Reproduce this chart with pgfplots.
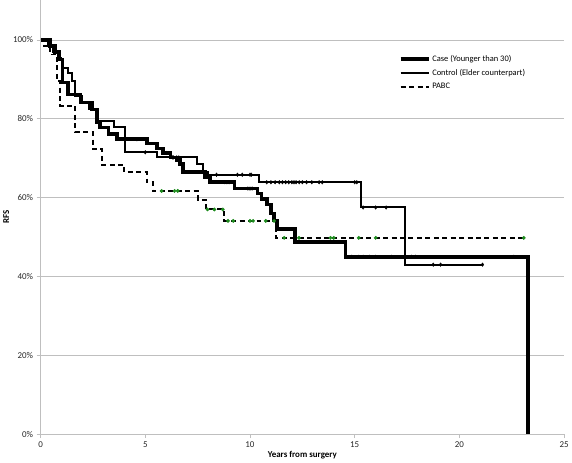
\documentclass[border=0pt]{standalone}
\usepackage{pgfplots}
\pgfplotsset{compat=1.18}
\usepackage{fontspec}
\setmainfont{Carlito}
\definecolor{gridgray}{HTML}{BFBFBF}
\definecolor{censgreen}{HTML}{1E8C1E}
\begin{document}
\begin{tikzpicture}
\begin{axis}[
  scale only axis, width=527pt, height=436.5pt,
  xmin=0, xmax=25, ymin=0, ymax=110,
  axis lines=left,
  axis line style={gridgray, line width=1pt, -},
  xtick={0,5,10,15,20,25},
  xticklabels={0,5,10,15,20,25},
  ytick={0,20,40,60,80,100},
  yticklabels={0\%,20\%,40\%,60\%,80\%,100\%},
  ymajorgrids, grid style={gridgray, line width=0.8pt},
  tick style={gridgray, line width=0.8pt},
  tick align=outside, major tick length=4pt,
  tick label style={font=\fontsize{9}{10}\selectfont, text=black!85},
  xlabel={\textbf{Years from surgery}},
  ylabel={\textbf{RFS}},
  label style={font=\fontsize{9}{10}\selectfont},
  xlabel style={yshift=3pt},
  ylabel style={yshift=-3pt},
  legend style={draw=none, fill=none, at={(0.684,0.879)}, anchor=north west,
    font=\fontsize{8.5}{10}\selectfont, row sep=2.5pt, inner sep=0pt},
  legend cell align=left,
  legend image code/.code={\draw[#1] (0pt,0pt) -- (28pt,0pt);},
]
% Case (Younger than 30)
\addplot[const plot, black, line width=3.6pt] coordinates {
(0,100)(0.45,98.5)(0.7,97)(0.9,95)(1.05,89.2)(1.3,86.2)(1.9,84.1)(2.45,82.4)
(2.7,79.1)(2.85,77.8)(3.25,76.2)(3.65,74.8)(5.07,73.7)(5.55,72.5)(5.85,71.3)
(6.2,70.2)(6.5,69.5)(6.65,68.5)(6.8,66.5)(7.85,65.3)(8.1,63.9)(9.25,62.3)
(10.35,61)(10.55,59.7)(10.8,58.3)(11.0,56)(11.15,54.2)(11.3,52.1)(12.15,48.8)
(14.55,45)(23.26,0)};
\addlegendentry{Case (Younger than 30)}
% Control (Elder counterpart)
\addplot[const plot, black, line width=2pt] coordinates {
(0,100)(0.35,98.5)(0.6,97)(0.85,95.5)(1.0,93)(1.3,91.5)(1.5,89.7)(1.65,85.8)
(2.0,84.3)(2.3,82.5)(2.7,79.5)(3.5,78)(4.03,71.5)(5.55,70.2)(7.45,68.5)
(7.75,66.5)(8.0,65.8)(10.44,63.9)(15.3,57.5)(17.4,43)(21.1,43)};
\addlegendentry{Control (Elder counterpart)}
% PABC
\addplot[const plot, black, line width=2pt, dash pattern=on 5pt off 3.5pt] coordinates {
(0,100)(0.15,98.5)(0.47,96.3)(0.8,89.5)(0.95,83.2)(1.66,76.6)(2.5,72.3)
(2.93,68.3)(4.0,66.4)(5.07,64)(5.35,61.7)(7.5,59.5)(7.9,57)(8.78,54.1)
(11.25,49.8)(23.07,49.8)};
\addlegendentry{PABC}
% censor marks
\addplot[forget plot, only marks, mark=diamond*, mark size=1.8pt, black] coordinates {
(4.6,74.8)(6.0,71.3)(6.35,70.2)(8.8,63.9)(8.9,63.9)(9.0,63.9)(9.9,62.3)(10.0,62.3)(10.1,62.3)
(13.3,48.8)(14.86,45)(15.2,45)(15.4,45)(15.7,45)(16.0,45)(16.75,45)(17.7,45)(17.9,45)(22.6,45)};
\addplot[forget plot, only marks, mark=diamond*, mark size=1.8pt, black] coordinates {
(5.0,71.5)(6.3,70.2)(6.5,70.2)(6.6,70.2)(8.4,65.8)(9.4,65.8)(9.63,65.8)(10.0,65.8)(10.06,65.8)
(10.8,63.9)(11.0,63.9)(11.2,63.9)(11.4,63.9)(11.55,63.9)(11.7,63.9)(11.85,63.9)(12.0,63.9)
(12.1,63.9)(12.2,63.9)(12.35,63.9)(12.5,63.9)(12.7,63.9)(12.95,63.9)(13.3,63.9)(13.45,63.9)
(15.0,63.9)(15.1,63.9)(15.4,57.5)(16.0,57.5)(16.5,57.5)(18.75,43)(19.1,43)(21.1,43)};
\addplot[forget plot, only marks, mark=*, mark size=1.7pt, censgreen] coordinates {
(5.78,61.7)(6.4,61.7)(6.55,61.7)(7.97,57)(8.3,57)(8.7,57)
(8.95,54.1)(9.2,54.1)(10.0,54.1)(10.15,54.1)(10.75,54.1)(11.15,54.1)
(11.63,49.8)(12.34,49.8)(13.84,49.8)(14.0,49.8)(15.19,49.8)(16.0,49.8)(23.07,49.8)};
\end{axis}
\end{tikzpicture}
\end{document}
